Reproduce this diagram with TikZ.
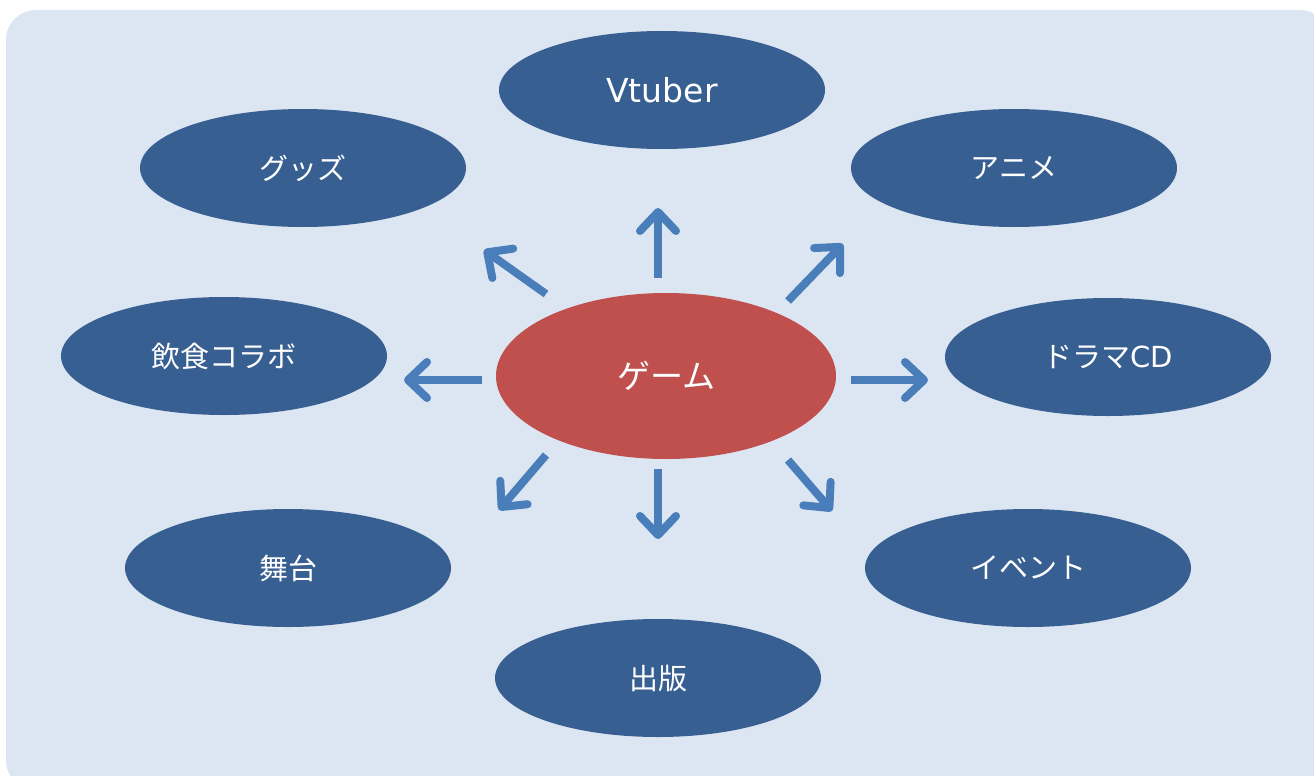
\documentclass[tikz,border=0pt]{standalone}
\usepackage{fontspec}
\setmainfont{Noto Sans CJK JP}
\newfontfamily\latin{DejaVu Sans}
\usetikzlibrary{arrows.meta,shapes.geometric}
\definecolor{fondbleu}{HTML}{DCE6F2}
\definecolor{bulle}{HTML}{385F91}
\definecolor{rouge}{HTML}{C0504D}
\definecolor{fleche}{HTML}{4A7EBB}
\tikzset{
  bulle/.style={ellipse, fill=bulle, text=white, minimum width=326, minimum height=118, inner sep=0pt, font=\fontsize{29}{32}\selectfont},
  centre/.style={bulle, fill=rouge, minimum width=340, minimum height=166, font=\fontsize{33}{36}\selectfont},
  fl/.style={fleche, line width=8, -{Straight Barb[length=19, width=36, line width=8, round]}}
}
\begin{document}
\begin{tikzpicture}[x=1pt, y=-1pt]
                \useasboundingbox (0,0) rectangle (1314,776) ;
                \fill [fondbleu, rounded corners=30] (6,10) rectangle (1330,790) ;
                % les bulles
                \node [centre] (jeu) at (666,376) {ゲーム} ;
                \node [bulle] (vtuber) at (662,90) {\latin\fontsize{33}{36}\selectfont Vtuber} ;
                \node [bulle] (goods) at (303,168) {グッズ} ;
                \node [bulle] (anime) at (1014,168) {アニメ} ;
                \node [bulle] (resto) at (224,356) {飲食コラボ} ;
                \node [bulle] (drama) at (1108,357) {ドラマ{\latin CD}} ;
                \node [bulle] (scene) at (288,568) {舞台} ;
                \node [bulle] (event) at (1028,568) {イベント} ;
                \node [bulle] (livre) at (658,678) {出版} ;
                % les flèches
                \coordinate (h0) at (658,278) ; \coordinate (h1) at (658,208) ;
                \coordinate (hg0) at (546,294) ; \coordinate (hg1) at (484,250) ;
                \coordinate (hd0) at (788,301) ; \coordinate (hd1) at (843,244) ;
                \coordinate (g0) at (482,380) ; \coordinate (g1) at (404,380) ;
                \coordinate (d0) at (851,380) ; \coordinate (d1) at (928,380) ;
                \coordinate (bg0) at (546,455) ; \coordinate (bg1) at (499,510) ;
                \coordinate (b0) at (658,469) ; \coordinate (b1) at (658,539) ;
                \coordinate (bd0) at (788,460) ; \coordinate (bd1) at (832,511) ;
                \draw [fl] (h0) -- (h1) ;
                \draw [fl] (hg0) -- (hg1) ;
                \draw [fl] (hd0) -- (hd1) ;
                \draw [fl] (g0) -- (g1) ;
                \draw [fl] (d0) -- (d1) ;
                \draw [fl] (bg0) -- (bg1) ;
                \draw [fl] (b0) -- (b1) ;
                \draw [fl] (bd0) -- (bd1) ;
\end{tikzpicture}
\end{document}
